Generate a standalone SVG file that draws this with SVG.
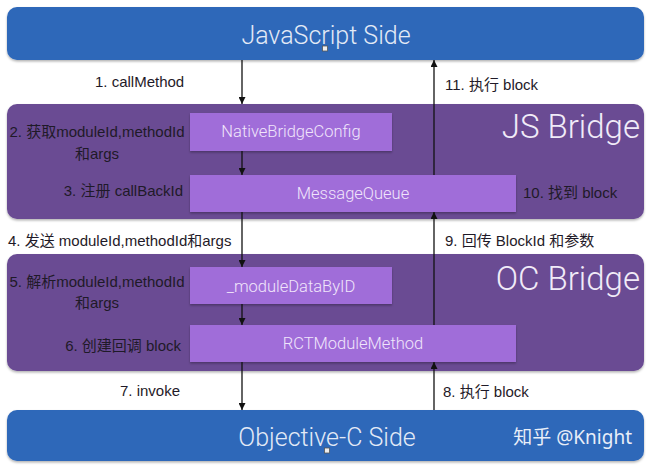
<svg xmlns="http://www.w3.org/2000/svg" width="650" height="468" viewBox="0 0 650 468">
<defs>
<filter id="sh" x="-5%" y="-10%" width="110%" height="130%">
<feDropShadow dx="0" dy="1.5" stdDeviation="1.2" flood-color="#000" flood-opacity="0.3"/>
</filter>
<marker id="ah" markerWidth="8" markerHeight="7" refX="7" refY="3.5" orient="auto" markerUnits="userSpaceOnUse">
<path d="M0,0 L7,3.5 L0,7 z" fill="#111"/>
</marker>
<style>
.side{fill:#2e68b9;filter:url(#sh)}
.bridge{fill:#6a4b93;filter:url(#sh)}
.box{fill:#a06dd9;filter:url(#sh)}
.t-side{font-family:"Roboto","Liberation Sans","Noto Sans CJK SC",sans-serif;font-weight:300;font-size:25px;fill:#e3eaf6;text-anchor:middle}
.t-br{font-family:"Roboto","Liberation Sans",sans-serif;font-weight:300;font-size:33px;fill:#f1ebf8;text-anchor:end}
.t-box{font-family:"Roboto","Liberation Sans",sans-serif;font-weight:300;font-size:16.5px;fill:#f0e5fb;text-anchor:middle}
.lb{font-family:"Liberation Sans","Noto Sans CJK SC",sans-serif;font-size:15px;fill:#1f1a28}
.c{stroke:#111;stroke-width:1.3;fill:none;marker-end:url(#ah)}
.hnd{fill:#eee;stroke:#555;stroke-width:0.8}
</style>
</defs>
<rect width="650" height="468" fill="#fff"/>

<g id="js-side">
<rect class="side" x="7" y="7" width="637" height="53" rx="10"/>
<text class="t-side" x="326" y="44">JavaScript Side</text>
<rect class="hnd" x="322.5" y="46" width="5" height="5"/>
</g>

<g id="js-bridge">
<rect class="bridge" x="7" y="104" width="637" height="115" rx="10"/>
<text class="t-br" x="640" y="138">JS Bridge</text>
</g>

<g id="native-bridge-config">
<rect class="box" x="190" y="113" width="202" height="38"/>
<text class="t-box" x="291" y="137">NativeBridgeConfig</text>
</g>

<g id="message-queue">
<rect class="box" x="190" y="175" width="326" height="37"/>
<text class="t-box" x="353" y="199">MessageQueue</text>
</g>

<g id="oc-bridge">
<rect class="bridge" x="7" y="254" width="637" height="117" rx="10"/>
<text class="t-br" x="640" y="290">OC Bridge</text>
</g>

<g id="module-data-by-id">
<rect class="box" x="190" y="267" width="202" height="37"/>
<text class="t-box" x="291" y="292">_moduleDataByID</text>
</g>

<g id="rct-module-method">
<rect class="box" x="190" y="325" width="326" height="37"/>
<text class="t-box" x="353" y="349">RCTModuleMethod</text>
</g>

<g id="oc-side">
<rect class="side" x="7" y="410" width="637" height="51" rx="10"/>
<text class="t-side" x="327" y="446">Objective-C Side</text>
<rect class="hnd" x="324.5" y="448" width="5" height="5"/>
<text x="632" y="444" font-family="'Noto Sans','Noto Sans CJK SC',sans-serif" font-size="19" fill="#e8eef8" text-anchor="end">知乎 @Knight</text>
</g>

<g id="connectors">
<line class="c" x1="242" y1="60" x2="242" y2="104"/>
<line class="c" x1="242" y1="151" x2="242" y2="175"/>
<line class="c" x1="242" y1="212" x2="242" y2="267"/>
<line class="c" x1="242" y1="304" x2="242" y2="325"/>
<line class="c" x1="242" y1="362" x2="242" y2="410"/>
<line class="c" x1="434" y1="410" x2="434" y2="362"/>
<line class="c" x1="434" y1="325" x2="434" y2="212"/>
<line class="c" x1="434" y1="175" x2="434" y2="60"/>
</g>

<g id="labels">
<text class="lb" x="95" y="87">1. callMethod</text>
<text class="lb" x="445" y="90">11. 执行 block</text>
<text class="lb" x="97" y="137" text-anchor="middle">2. 获取moduleId,methodId</text>
<text class="lb" x="97" y="159" text-anchor="middle">和args</text>
<text class="lb" x="183" y="196" text-anchor="end">3. 注册 callBackId</text>
<text class="lb" x="523" y="198">10. 找到 block</text>
<text class="lb" x="8" y="246">4. 发送 moduleId,methodId和args</text>
<text class="lb" x="445" y="246">9. 回传 BlockId 和参数</text>
<text class="lb" x="97" y="287" text-anchor="middle">5. 解析moduleId,methodId</text>
<text class="lb" x="97" y="308" text-anchor="middle">和args</text>
<text class="lb" x="181" y="351" text-anchor="end">6. 创建回调 block</text>
<text class="lb" x="180" y="396" text-anchor="end">7. invoke</text>
<text class="lb" x="443" y="397">8. 执行 block</text>
</g>
</svg>
